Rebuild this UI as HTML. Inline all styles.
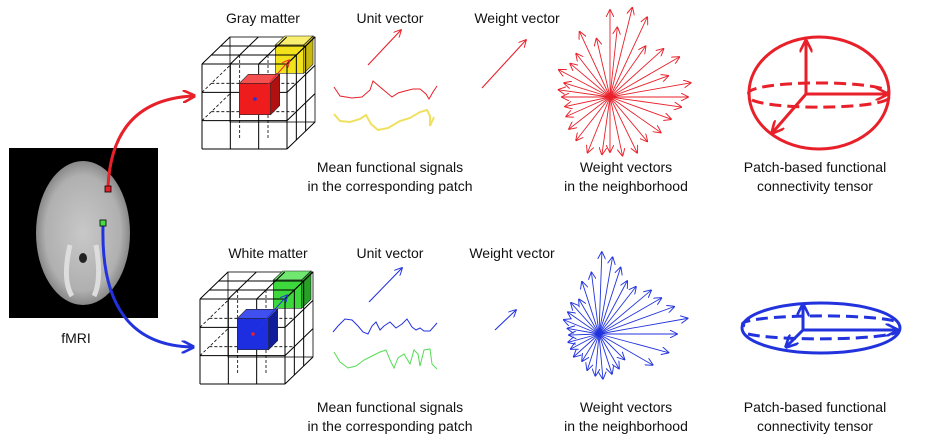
<!DOCTYPE html>
<html><head><meta charset="utf-8"><style>
html,body{margin:0;padding:0;background:#fff;width:928px;height:444px;overflow:hidden}
svg{display:block}
text{font-family:"Liberation Sans",sans-serif;font-size:14px;fill:#111}
</style></head><body>
<svg id="s" width="928" height="444" viewBox="0 0 928 444" xmlns="http://www.w3.org/2000/svg">
<defs>
<marker id="ar" viewBox="0 0 10 10" refX="9" refY="5" markerWidth="8" markerHeight="8" orient="auto" markerUnits="userSpaceOnUse"><path d="M0,0 L10,5 L0,10" fill="none" stroke="#e8202a" stroke-width="1.2"/></marker>
<marker id="ab" viewBox="0 0 10 10" refX="9" refY="5" markerWidth="8" markerHeight="8" orient="auto" markerUnits="userSpaceOnUse"><path d="M0,0 L10,5 L0,10" fill="none" stroke="#2233dd" stroke-width="1.2"/></marker>
<marker id="arB" viewBox="0 0 10 10" refX="8" refY="5" markerWidth="13" markerHeight="13" orient="auto" markerUnits="userSpaceOnUse"><path d="M0,0 L10,5 L0,10" fill="none" stroke="#e8202a" stroke-width="2"/></marker>
<marker id="abB" viewBox="0 0 10 10" refX="8" refY="5" markerWidth="13" markerHeight="13" orient="auto" markerUnits="userSpaceOnUse"><path d="M0,0 L10,5 L0,10" fill="none" stroke="#2233dd" stroke-width="2"/></marker>
<radialGradient id="brain" cx="50%" cy="50%" r="50%"><stop offset="0" stop-color="#c8c8c8"/><stop offset="0.8" stop-color="#b0b0b0"/><stop offset="1" stop-color="#888"/></radialGradient>
</defs>

<g>
<rect x="9" y="148" width="149" height="170" fill="#000"/>
<ellipse cx="83" cy="233" rx="47" ry="72" fill="url(#brain)"/>
<path d="M70 245 Q62 280 72 296 M96 245 Q102 280 94 296" stroke="#ddd" stroke-width="5" fill="none"/>
<ellipse cx="83" cy="258" rx="4" ry="5" fill="#222"/>
</g>
<text x="76" y="343" text-anchor="middle">fMRI</text>
<path d="M108 187 Q112 100 193 96" stroke="#e8202a" stroke-width="3" fill="none" marker-end="url(#arB)"/>
<path d="M103 226 Q100 345 192 347" stroke="#2233dd" stroke-width="3" fill="none" marker-end="url(#abB)"/>
<rect x="105" y="186" width="6" height="6" fill="#e8202a" stroke="#000" stroke-width="0.8"/>
<rect x="100" y="220" width="6" height="6" fill="#44dd44" stroke="#000" stroke-width="0.8"/>

<g id="cubes"></g>

<text x="263" y="23" text-anchor="middle">Gray matter</text>
<text x="390" y="23" text-anchor="middle">Unit vector</text>
<text x="517" y="23" text-anchor="middle">Weight vector</text>
<text x="268" y="258" text-anchor="middle">White matter</text>
<text x="390" y="258" text-anchor="middle">Unit vector</text>
<text x="512" y="258" text-anchor="middle">Weight vector</text>

<g>
<text x="390" y="172" text-anchor="middle">Mean functional signals</text>
<text x="390" y="191" text-anchor="middle">in the corresponding patch</text>
<text x="626" y="172" text-anchor="middle">Weight vectors</text>
<text x="626" y="191" text-anchor="middle">in the neighborhood</text>
<text x="815" y="172" text-anchor="middle">Patch-based functional</text>
<text x="815" y="191" text-anchor="middle">connectivity tensor</text>
</g>
<g>
<text x="390" y="412" text-anchor="middle">Mean functional signals</text>
<text x="390" y="431" text-anchor="middle">in the corresponding patch</text>
<text x="626" y="412" text-anchor="middle">Weight vectors</text>
<text x="626" y="431" text-anchor="middle">in the neighborhood</text>
<text x="815" y="412" text-anchor="middle">Patch-based functional</text>
<text x="815" y="431" text-anchor="middle">connectivity tensor</text>
</g>

<line x1="368" y1="65" x2="401" y2="30" stroke="#e8202a" stroke-width="1.1" marker-end="url(#ar)"/>
<line x1="482" y1="88" x2="526" y2="40" stroke="#e8202a" stroke-width="1.1" marker-end="url(#ar)"/>
<line x1="369" y1="302" x2="402" y2="268" stroke="#2233dd" stroke-width="1.1" marker-end="url(#ab)"/>
<line x1="495" y1="330" x2="516" y2="310" stroke="#2233dd" stroke-width="1.1" marker-end="url(#ab)"/>

<polyline points="334,87 340,96 352,98 362,97 370,90 373,81 380,87 386,92 392,97 398,93 405,91 413,89 420,89 426,94 429,99 433,92 437,86" fill="none" stroke="#e8202a" stroke-width="1"/>
<polyline points="334,114 340,121 350,122 360,119 366,115 371,124 378,130 388,128 400,121 410,118 420,112 427,110 430,116 430,126 434,117" fill="none" stroke="#f0e060" stroke-width="2"/>
<polyline points="333,332 338,326 345,319 352,320 358,326 363,332 368,334 372,326 376,322 380,330 384,326 390,322 396,328 402,324 407,319 412,327 416,330 420,328 424,331 430,331 437,323" fill="none" stroke="#2233dd" stroke-width="1"/>
<polyline points="334,352 340,362 348,368 356,366 364,360 372,356 380,352 386,350 390,360 394,368 398,358 404,354 410,364 414,350 418,354 420,366 424,350 430,349 432,364 437,369" fill="none" stroke="#55dd55" stroke-width="1"/>

<g id="stars"></g>

<g stroke="#e8202a" stroke-width="3" fill="none">
<ellipse cx="819" cy="93" rx="70" ry="56"/>
<path d="M750 95 A70 10 0 0 1 888 91" stroke-dasharray="12,6"/>
<path d="M752 100 A70 10 0 0 0 888 99" stroke-dasharray="12,6"/>
<line x1="806" y1="94" x2="806" y2="42" marker-end="url(#arB)"/>
<line x1="806" y1="94" x2="886" y2="94" marker-end="url(#arB)"/>
<line x1="806" y1="94" x2="773" y2="132" marker-end="url(#arB)"/>
</g>
<g stroke="#2233dd" stroke-width="3" fill="none">
<ellipse cx="821" cy="328" rx="79" ry="25"/>
<path d="M745 326 A78 8 0 0 1 898 322" stroke-dasharray="12,6"/>
<path d="M748 334 A78 8 0 0 0 897 332" stroke-dasharray="12,6"/>
<line x1="803" y1="330" x2="803" y2="306" marker-end="url(#abB)"/>
<line x1="803" y1="330" x2="896" y2="330" marker-end="url(#abB)"/>
<line x1="803" y1="330" x2="787" y2="346" marker-end="url(#abB)"/>
</g>
</svg>
<script>
const redAngles  = [0,10,20,30,42,55,65,76,84,90,103,115,128,140,152,163,172,180,192,204,218,232,248,262,270,282,296,310,325,340,352];
const redLengths = [78,82,62,80,72,62,88,92,70,87,60,72,55,52,58,48,52,48,46,48,52,55,60,58,55,60,62,58,62,65,72];
const blueAngles  = [0,10,20,30,40,52,62,72,80,88,97,108,120,132,145,158,170,182,195,208,222,238,252,265,275,288,300,315,330,345];
const blueLengths = [78,90,80,72,68,60,60,70,78,82,62,55,40,42,38,38,32,30,32,32,34,32,38,42,45,42,40,36,62,72];
const NS='http://www.w3.org/2000/svg';
const stars=document.getElementById('stars');
function fan(cx,cy,angles,lengths,color,marker,name){
  const g=document.createElementNS(NS,'g');
  
  
  angles.forEach((a,i)=>{
    const r=a*Math.PI/180,L=lengths[i];
    const l=document.createElementNS(NS,'line');
    
    
    l.setAttribute('x1',cx);l.setAttribute('y1',cy);
    l.setAttribute('x2',cx+L*Math.cos(r));l.setAttribute('y2',cy-L*Math.sin(r));
    l.setAttribute('stroke',color);l.setAttribute('stroke-width','0.9');
    l.setAttribute('marker-end','url(#'+marker+')');
    g.appendChild(l);
  });
  stars.appendChild(g);
}
fan(610,97,redAngles,redLengths,'#e8202a','ar','weight-fan-gray');
fan(599,334,blueAngles,blueLengths,'#2233dd','ab','weight-fan-white');

const cubes=document.getElementById('cubes');
function el(tag,attrs,parent){const e=document.createElementNS(NS,tag);for(const k in attrs)e.setAttribute(k,attrs[k]);parent.appendChild(e);return e;}
function box(g,x,y,w,h,dx,dy,col,side,top){
  el('polygon',{points:`${x},${y} ${x+dx},${y+dy} ${x+w+dx},${y+dy} ${x+w},${y}`,fill:top,stroke:'#222','stroke-width':0.6},g);
  el('polygon',{points:`${x+w},${y} ${x+w+dx},${y+dy} ${x+w+dx},${y+h+dy} ${x+w},${y+h}`,fill:side,stroke:'#222','stroke-width':0.6},g);
  el('rect',{x:x,y:y,width:w,height:h,fill:col,stroke:'#222','stroke-width':0.6},g);
}
function shade(c){return {'#ee1c1c':'#b01010','#f2e21c':'#c8b810','#1c2ee0':'#101c9a','#3cd83c':'#26a026'}[c];}
function tint(c){return {'#ee1c1c':'#f55050','#f2e21c':'#f8ee70','#1c2ee0':'#4050ee','#3cd83c':'#70e870'}[c];}
function grid(x,y,hl,c1,c2,name){
  const g=document.createElementNS(NS,'g');
  
  
  cubes.appendChild(g);
  const W=85,H=85,DX=28,DY=-27,s='#000';
  for(let i=1;i<3;i++){
    const fx=x+W*i/3;
    el('line',{x1:fx+DX/3,y1:y+DY/3,x2:fx+DX/3,y2:y+H+DY/3,stroke:s,'stroke-dasharray':'3,2','stroke-width':0.8},g);
    el('line',{x1:x+DX/3,y1:y+H*i/3+DY/3,x2:x+W+DX/3,y2:y+H*i/3+DY/3,stroke:s,'stroke-dasharray':'3,2','stroke-width':0.8},g);
    el('line',{x1:x,y1:y+H*i/3,x2:x+DX,y2:y+H*i/3+DY,stroke:s,'stroke-dasharray':'3,2','stroke-width':0.8},g);
  }
  el('rect',{x:x+DX,y:y+DY,width:W,height:H,fill:'none',stroke:s,'stroke-width':0.8},g);
  box(g,x+W*2/3+DX*2/3-2,y+DY*2/3-1,W/3,H/3,DX/3,DY/3,c2,shade(c2),tint(c2));
  for(let i=0;i<=3;i++){
    const fx=x+W*i/3,fy=y+H*i/3;
    el('line',{x1:fx,y1:y,x2:fx,y2:y+H,stroke:s,'stroke-width':1},g);
    el('line',{x1:x,y1:fy,x2:x+W,y2:fy,stroke:s,'stroke-width':1},g);
    el('line',{x1:fx,y1:y,x2:fx+DX,y2:y+DY,stroke:s,'stroke-width':1},g);
    el('line',{x1:x+W,y1:fy,x2:x+W+DX,y2:fy+DY,stroke:s,'stroke-width':1},g);
  }
  for(let j=1;j<3;j++){
    el('line',{x1:x+DX*j/3,y1:y+DY*j/3,x2:x+W+DX*j/3,y2:y+DY*j/3,stroke:s,'stroke-width':1},g);
    el('line',{x1:x+W+DX*j/3,y1:y+DY*j/3,x2:x+W+DX*j/3,y2:y+H+DY*j/3,stroke:s,'stroke-width':1},g);
  }
  box(g,x+W/3+9,y+H/3-9,W/3+3,H/3+3,9,-9,c1,shade(c1),tint(c1));
  const cx=x+W/3+9+(W/3+3)/2, cy=y+H/3-9+(H/3+3)/2;
  el('line',{x1:cx,y1:cy,x2:x+W*5/6+DX*2/3-2,y2:y+H/6+DY*2/3,stroke:hl,'stroke-width':1,'marker-end':hl==='#e8202a'?'url(#ar)':'url(#ab)'},g);
  el('circle',{cx:cx,cy:cy,r:1.8,fill:hl==='#e8202a'?'#2233dd':'#e8202a'},g);
}
grid(202,64,'#e8202a','#ee1c1c','#f2e21c','voxel-grid-gray');
grid(200,299,'#2233dd','#1c2ee0','#3cd83c','voxel-grid-white');
</script>
</body></html>
